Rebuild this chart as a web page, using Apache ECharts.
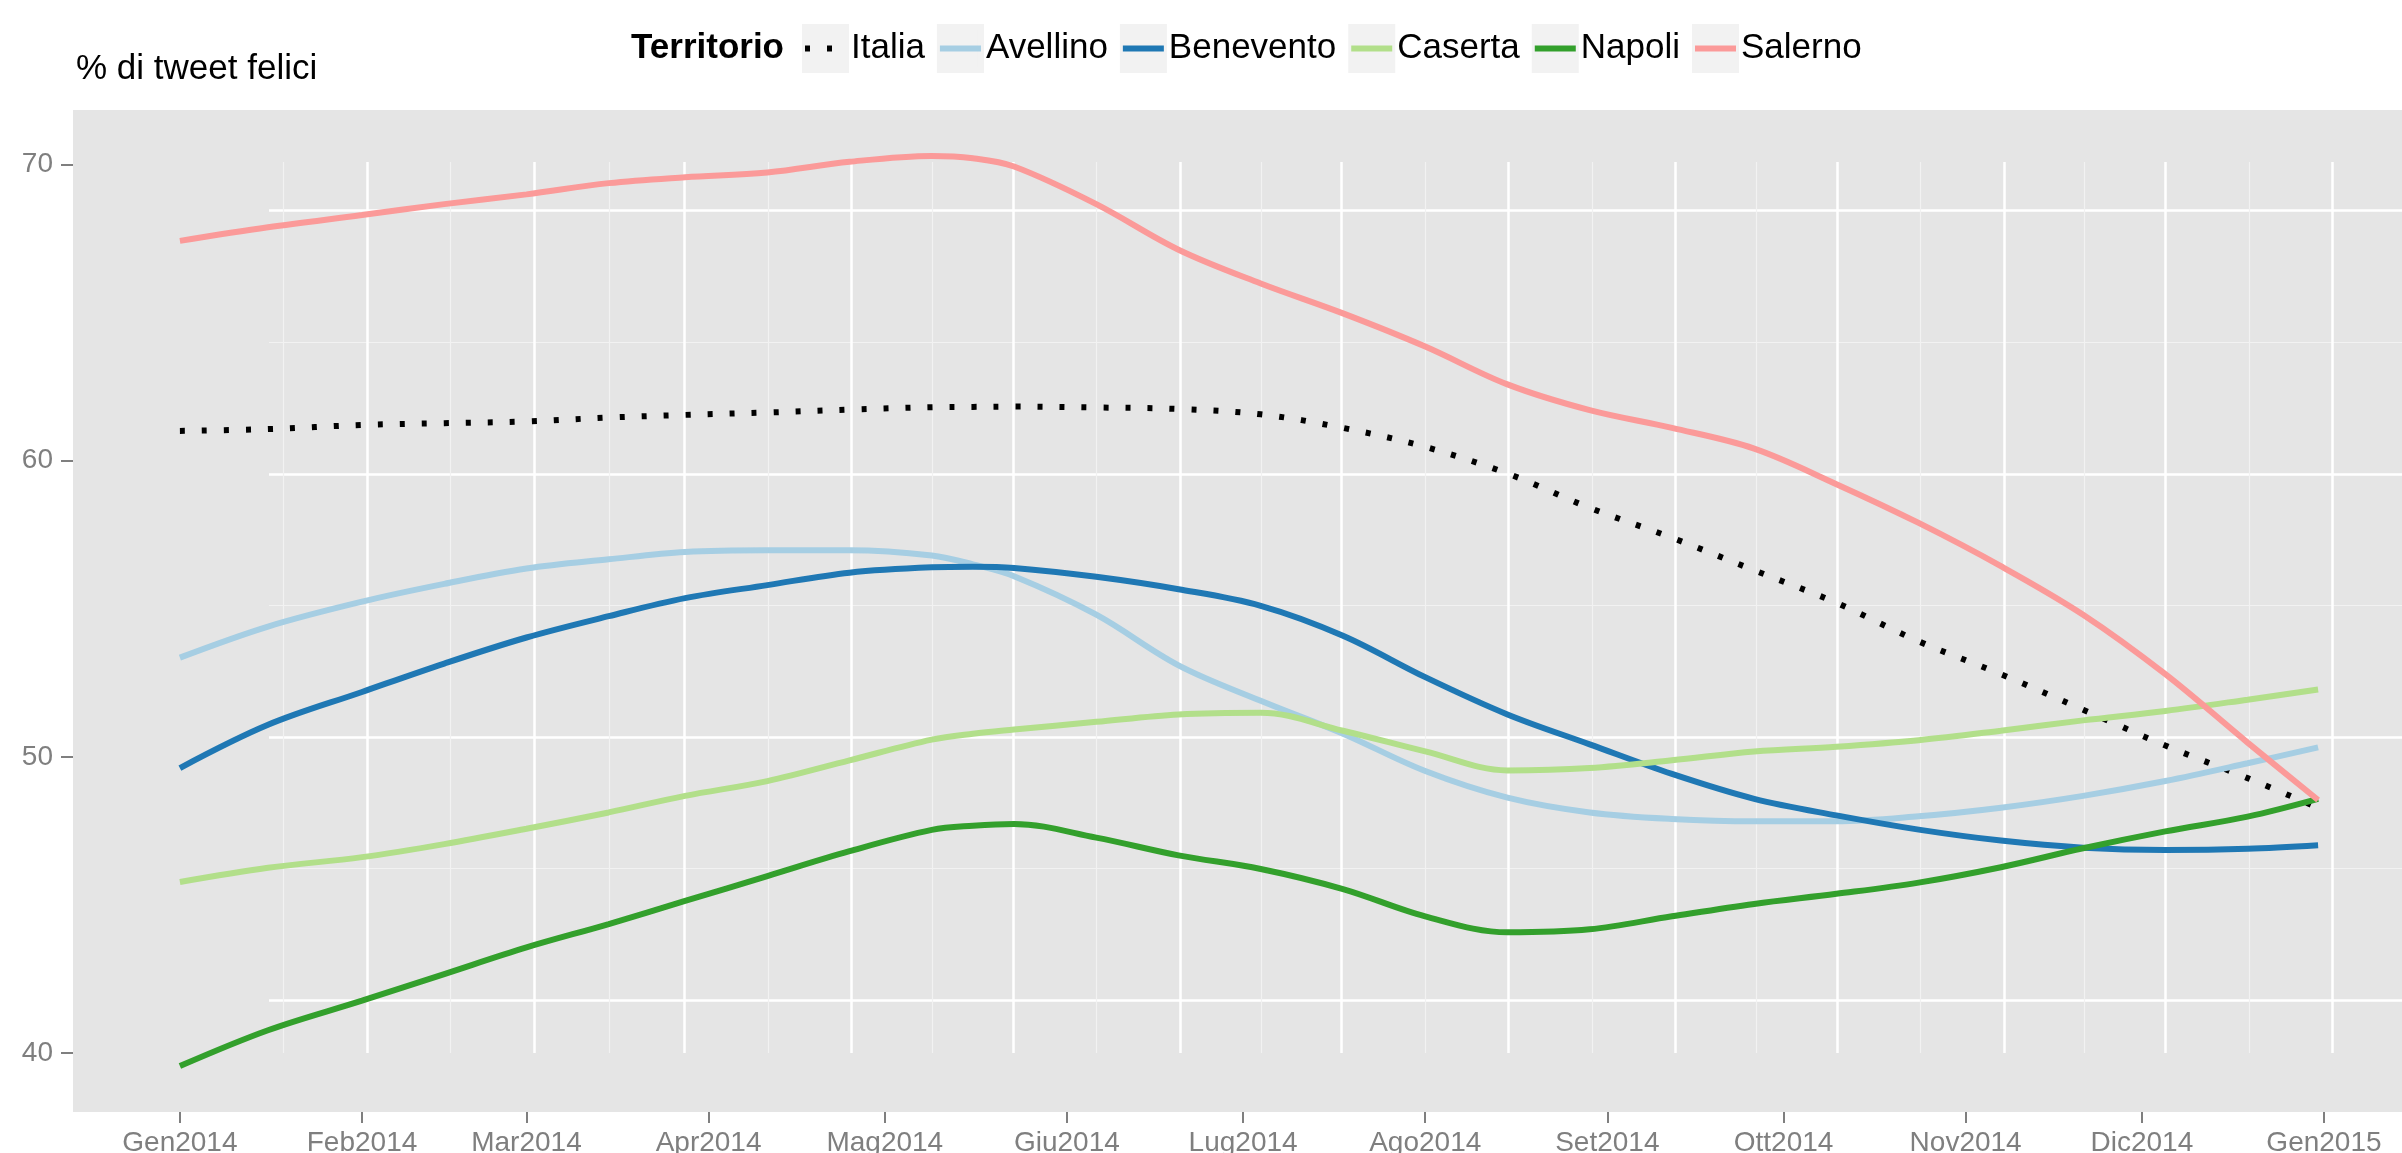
<!DOCTYPE html>
<html>
<head>
<meta charset="utf-8">
<script src="https://cdn.jsdelivr.net/npm/echarts@6/dist/echarts.min.js"></script>
<style>
html,body{margin:0;padding:0;background:#ffffff;}
#chart{width:2402px;height:1153px;}
</style>
</head>
<body>
<div id="chart"></div>
<script>
// ---- data ----
const dates = ['2014-01-01','2014-01-16','2014-02-01','2014-02-15','2014-03-01','2014-03-15','2014-03-28',
  '2014-04-11','2014-04-25','2014-05-09','2014-05-16','2014-05-23','2014-06-06','2014-06-20','2014-07-04',
  '2014-07-18','2014-08-01','2014-08-15','2014-08-29','2014-09-12','2014-09-26','2014-10-10','2014-10-24',
  '2014-11-07','2014-11-21','2014-12-05','2014-12-19','2014-12-31'];

const italia    = [61.01,61.07,61.21,61.27,61.33,61.46,61.55,61.63,61.73,61.81,61.82,61.83,61.80,61.75,61.57,61.11,60.47,59.57,58.41,57.40,56.30,55.20,53.90,52.79,51.59,50.38,49.28,48.28];
const avellino  = [53.35,54.40,55.24,55.84,56.36,56.67,56.92,56.98,56.98,56.80,56.50,56.10,54.80,53.09,51.89,50.78,49.52,48.62,48.12,47.90,47.82,47.82,47.99,48.28,48.68,49.18,49.78,50.32];
const benevento = [49.62,51.08,52.19,53.15,54.03,54.75,55.36,55.80,56.22,56.40,56.42,56.38,56.08,55.66,55.10,54.09,52.69,51.43,50.42,49.42,48.58,48.02,47.54,47.17,46.93,46.85,46.89,47.01];
const caserta   = [45.77,46.25,46.61,47.05,47.57,48.12,48.68,49.18,49.88,50.58,50.78,50.92,51.18,51.43,51.49,50.88,50.18,49.54,49.62,49.88,50.18,50.34,50.56,50.88,51.23,51.55,51.93,52.27];
const napoli    = [39.55,40.76,41.76,42.66,43.56,44.35,45.13,45.97,46.81,47.53,47.67,47.73,47.27,46.67,46.21,45.53,44.61,44.07,44.17,44.61,45.03,45.37,45.75,46.27,46.91,47.48,47.98,48.58];
const salerno   = [67.43,67.89,68.30,68.67,69.00,69.38,69.58,69.74,70.10,70.30,70.22,69.94,68.67,67.13,65.99,64.98,63.86,62.58,61.71,61.11,60.41,59.21,57.90,56.44,54.80,52.79,50.48,48.54];

const seriesNames = ['Italia','Avellino','Benevento','Caserta','Napoli','Salerno'];
const monthNames = ['Gen','Feb','Mar','Apr','Mag','Giu','Lug','Ago','Set','Ott','Nov','Dic'];
const tickMonths = ['2014-01-01','2014-02-01','2014-03-01','2014-04-01','2014-05-01','2014-06-01','2014-07-01',
  '2014-08-01','2014-09-01','2014-10-01','2014-11-01','2014-12-01','2015-01-01'];
const gridMonths = ['2013-12-01'].concat(tickMonths);
const yTicks = [40, 50, 60, 70];
const yMinorTicks = [45, 55, 65];
const yRange = [38.0, 71.85];
const legendTitle = 'Territorio';
const axisTitle = '% di tweet felici';

// ---- helpers ----
function ts(s){ const p = s.split('-').map(Number); return new Date(p[0], p[1]-1, p[2]).getTime(); }
const values = [italia, avellino, benevento, caserta, napoli, salerno];
const colors = ['#000000','#A6CEE3','#1F78B4','#B2DF8A','#33A02C','#FB9A99'];

const t0 = ts(dates[0]), t1 = ts(dates[dates.length-1]);
const pad = (t1 - t0) * 0.05;
const xMin = t0 - pad, xMax = t1 + pad;
const tickTs = tickMonths.map(ts);
const gridTs = gridMonths.map(ts).filter(t => t > xMin && t < xMax);
const allGridTs = gridMonths.map(ts);
const minorTs = [];
for (let i = 1; i < allGridTs.length; i++) minorTs.push((allGridTs[i-1] + allGridTs[i]) / 2);

const FONT = 'Liberation Sans, Arial, Helvetica, sans-serif';
const GREY = '#7f7f7f';

const chart = echarts.init(document.getElementById('chart'), null, {renderer:'canvas'});

const series = seriesNames.map((n, i) => ({
  name: n,
  type: 'line',
  xAxisIndex: 0,
  yAxisIndex: 0,
  data: dates.map((d, j) => [ts(d), values[i][j]]),
  smooth: 0.35,
  symbol: 'none',
  showSymbol: false,
  lineStyle: {color: colors[i], width: 6, type: i === 0 ? [5, 17] : 'solid', cap: 'butt'},
  itemStyle: {color: colors[i]},
  z: 3,
  silent: true,
  animation: false
}));

const legendCommon = {left: 797, top: 19, itemWidth: 41, itemHeight: 43, itemGap: 12,
  selectedMode: false, data: seriesNames};

chart.setOption({
  animation: false,
  backgroundColor: '#ffffff',
  title: [
    {text: axisTitle, left: 71, top: 44,
     textStyle:{fontFamily: FONT, fontSize: 35, fontWeight:'normal', color:'#000', lineHeight: 40}},
    {text: legendTitle, right: 2402 - 789, top: 23,
     textStyle:{fontFamily: FONT, fontSize: 35, fontWeight:'bold', color:'#000', lineHeight: 40}}
  ],
  legend: [
    Object.assign({}, legendCommon, {
      icon: 'rect',
      itemStyle: {color: '#f2f2f2', borderColor: '#f2f2f2', borderWidth: 6, opacity: 1},
      textStyle: {fontFamily: FONT, fontSize: 35, lineHeight: 49, color: 'rgba(0,0,0,0)'}
    }),
    Object.assign({}, legendCommon, {
      itemStyle: {opacity: 0, borderWidth: 0},
      lineStyle: {width: 6, cap: 'butt'},
      textStyle: {fontFamily: FONT, fontSize: 35, lineHeight: 49, color: '#000000'}
    })
  ],
  grid: [
    {left: 73, top: 110, right: -23, bottom: 41, show: true, backgroundColor: '#e5e5e5',
     borderWidth: 0, containLabel: false, outerBoundsMode: 'none'},
    {left: 269, top: 162, right: -23, bottom: 100, show: false,
     containLabel: false, outerBoundsMode: 'none'}
  ],
  xAxis: [
    {gridIndex: 0, type: 'value', min: xMin, max: xMax,
     axisLine: {show: false},
     axisTick: {show: true, length: 11, customValues: tickTs, lineStyle: {color: GREY, width: 2}},
     axisLabel: {show: true, customValues: tickTs, color: GREY, fontFamily: FONT, fontSize: 28, margin: 17,
       hideOverlap: false,
       formatter: function(v){ const d = new Date(v); return monthNames[d.getMonth()] + d.getFullYear(); }},
     splitLine: {show: false}, minorTick:{show:false}, minorSplitLine:{show:false}},
    {gridIndex: 1, type: 'value', min: xMin, max: xMax, position: 'bottom',
     axisLine:{show:false}, axisLabel:{show:false},
     axisTick: {show: false, customValues: gridTs},
     splitLine: {show: true, lineStyle: {color: '#ffffff', width: 2.5}}},
    {gridIndex: 1, type: 'value', min: xMin, max: xMax, position: 'top',
     axisLine:{show:false}, axisLabel:{show:false},
     axisTick: {show: false, customValues: minorTs},
     splitLine: {show: true, lineStyle: {color: '#f2f2f2', width: 1.2}}}
  ],
  yAxis: [
    {gridIndex: 0, type: 'value', min: yRange[0], max: yRange[1],
     axisLine: {show: false},
     axisTick: {show: true, length: 12, customValues: yTicks, lineStyle: {color: GREY, width: 2}},
     axisLabel: {show: true, customValues: yTicks, color: GREY, fontFamily: FONT, fontSize: 28, margin: 20},
     splitLine: {show: false}},
    {gridIndex: 1, type: 'value', min: yRange[0], max: yRange[1], position: 'left',
     axisLine:{show:false}, axisLabel:{show:false},
     axisTick: {show: false, customValues: yTicks},
     splitLine: {show: true, lineStyle: {color: '#ffffff', width: 2.5}}},
    {gridIndex: 1, type: 'value', min: yRange[0], max: yRange[1], position: 'right',
     axisLine:{show:false}, axisLabel:{show:false},
     axisTick: {show: false, customValues: yMinorTicks},
     splitLine: {show: true, lineStyle: {color: '#f2f2f2', width: 1.2}}}
  ],
  series: series
});
</script>
</body>
</html>
